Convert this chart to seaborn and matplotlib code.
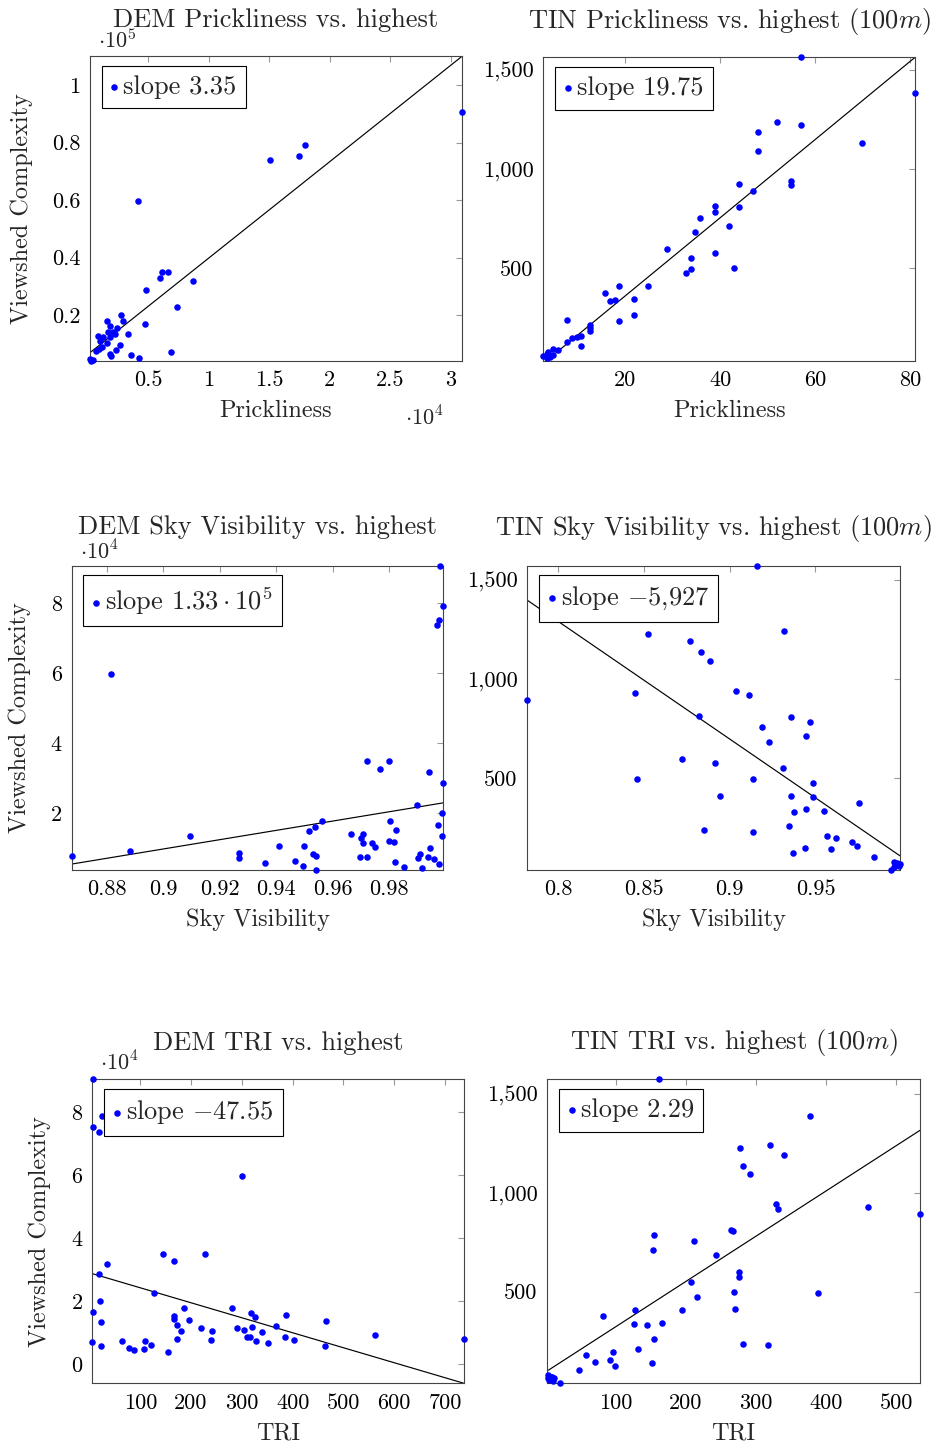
import numpy as np
import matplotlib
matplotlib.use("Agg")
import matplotlib.pyplot as plt
from matplotlib.ticker import FixedLocator, FuncFormatter
import seaborn as sns

# ---------------------------------------------------------------- data
# DEM prickliness (x 1e4) vs. DEM viewshed complexity (x 1e5)
dem_prick_x = np.array([3.095, 1.795, 1.75, 1.506, 0.415, 0.66, 0.613, 0.594, 0.867, 0.481,
                        0.74, 0.274, 0.291, 0.156, 0.186, 0.47, 0.239, 0.164, 0.206, 0.332,
                        0.225, 0.087, 0.128, 0.181, 0.101, 0.161, 0.266, 0.115, 0.095, 0.23,
                        0.068, 0.184, 0.192, 0.354, 0.426, 0.687, 0.018, 0.040, 0.026]) * 1e4
dem_prick_y = np.array([0.906, 0.791, 0.753, 0.738, 0.596, 0.350, 0.351, 0.328, 0.319, 0.288,
                        0.227, 0.201, 0.180, 0.179, 0.163, 0.168, 0.154, 0.142, 0.142, 0.135,
                        0.135, 0.128, 0.122, 0.125, 0.111, 0.104, 0.096, 0.090, 0.082, 0.079,
                        0.074, 0.064, 0.057, 0.062, 0.052, 0.070, 0.046, 0.044, 0.040]) * 1e5

# TIN prickliness vs. TIN viewshed complexity
tin_prick_x = [57.0, 81.0, 51.9, 48.0, 57.0, 69.9, 48.0, 54.9, 54.9, 43.9,
               46.9, 38.9, 38.9, 43.9, 35.8, 41.9, 34.8, 28.7, 33.9, 38.9,
               33.9, 32.7, 42.9, 18.8, 24.8, 15.8, 16.8, 17.8, 21.8, 21.8,
               18.8, 7.8, 12.7, 12.7, 12.7, 10.8, 9.8, 8.8, 7.8, 10.8,
               5.8, 4.8, 4.8, 3.8, 2.8, 3.5, 4.2, 3.5]
tin_prick_y = [1564, 1382, 1237, 1187, 1220, 1131, 1089, 941, 917, 926,
               891, 813, 783, 806, 754, 712, 684, 598, 552, 574,
               493, 475, 498, 411, 411, 374, 332, 337, 343, 263,
               232, 239, 212, 197, 182, 158, 152, 145, 126, 106,
               84, 89, 61, 74, 57, 44, 52, 64]

# DEM sky visibility vs. DEM viewshed complexity (x 1e4)
dem_sky_x = [0.9981, 0.9992, 0.9977, 0.9969, 0.8814, 0.9723, 0.9800, 0.9769, 0.9942, 0.9990,
             0.9900, 0.9987, 0.9802, 0.9564, 0.9538, 0.9825, 0.9517, 0.9973, 0.9095, 0.9664,
             0.9708, 0.9700, 0.9708, 0.9739, 0.9750, 0.9800, 0.9819, 0.9988, 0.9409, 0.9499,
             0.9944, 0.8881, 0.8676, 0.9268, 0.9268, 0.9531, 0.9540, 0.9697, 0.9723, 0.9911,
             0.9902, 0.9937, 0.9959, 0.9361, 0.9467, 0.9495, 0.9541, 0.9821, 0.9852, 0.9915,
             0.9977]
dem_sky_y = np.array([9.08, 7.92, 7.54, 7.38, 5.97, 3.50, 3.50, 3.28, 3.19, 2.88,
                      2.25, 2.00, 1.79, 1.79, 1.62, 1.53, 1.50, 1.67, 1.35, 1.41,
                      1.41, 1.29, 1.14, 1.16, 1.03, 1.22, 1.19, 1.34, 1.06, 1.06,
                      1.02, 0.93, 0.78, 0.86, 0.72, 0.83, 0.77, 0.76, 0.76, 0.84,
                      0.71, 0.74, 0.70, 0.57, 0.65, 0.50, 0.38, 0.60, 0.48, 0.43,
                      0.56]) * 1e4

# TIN sky visibility vs. TIN viewshed complexity
tin_sky_x = [0.9161, 0.9319, 0.8522, 0.8766, 0.8832, 0.8884, 0.7819, 0.8446, 0.9038, 0.9112,
             0.8822, 0.9356, 0.9469, 0.9190, 0.9445, 0.9229, 0.8721, 0.8914, 0.9309, 0.8456,
             0.9138, 0.9483, 0.8943, 0.9358, 0.9488, 0.9755, 0.9375, 0.9445, 0.9550, 0.9348,
             0.8851, 0.9134, 0.9568, 0.9617, 0.9712, 0.9743, 0.9593, 0.9441, 0.9366, 0.9841,
             0.9958, 0.9967, 0.9987, 0.9973, 0.9960, 0.9942, 0.9993]
tin_sky_y = [1572, 1243, 1226, 1192, 1135, 1093, 895, 929, 942, 920,
             813, 809, 784, 757, 713, 685, 598, 576, 550, 495,
             498, 475, 413, 411, 408, 374, 330, 344, 337, 261,
             238, 231, 211, 199, 181, 159, 142, 147, 125, 105,
             80, 63, 58, 71, 55, 38, 68]

# DEM TRI vs. DEM viewshed complexity (x 1e4)
dem_tri_x = [6.9, 6.9, 19.3, 25.2, 301, 144, 227, 166, 34.4, 18,
             127, 20.7, 6.9, 186, 280, 318, 325, 166, 166, 195,
             22.6, 465, 386, 368, 173, 320, 220, 290, 181, 241,
             305, 340, 562, 310, 316, 385, 173, 240, 402, 737,
             328, 352, 109, 122, 107, 65, 78, 88, 155, 464,
             22, 5.6]
dem_tri_y = np.array([9.04, 7.52, 7.37, 7.89, 5.96, 3.51, 3.49, 3.28, 3.18, 2.87,
                      2.25, 2.01, 1.67, 1.79, 1.79, 1.62, 1.49, 1.52, 1.42, 1.41,
                      1.35, 1.36, 1.57, 1.20, 1.23, 1.17, 1.15, 1.14, 1.04, 1.06,
                      1.07, 1.02, 0.94, 0.85, 0.85, 0.85, 0.79, 0.77, 0.77, 0.79,
                      0.73, 0.66, 0.75, 0.61, 0.49, 0.73, 0.52, 0.44, 0.38, 0.57,
                      0.57, 0.70]) * 1e4

# TIN TRI vs. TIN viewshed complexity
tin_tri_x = [161.8, 377.7, 320, 276.9, 340, 281.6, 292, 460.4, 534, 329,
             332, 154.7, 153.2, 212.2, 264.5, 266.9, 243.1, 275.5, 275.5, 208,
             268.3, 388.2, 216.5, 195.1, 270.7, 127.6, 82, 125.7, 144.7, 165.6,
             155.2, 131.9, 281.2, 317.3, 95.7, 57.2, 92.4, 152.3, 70.5, 99.1,
             47.7, 20.6, 4, 8.7, 12, 5.4, 7.3, 11, 4]
tin_tri_y = [1574, 1389, 1244, 1227, 1193, 1136, 1094, 930, 895, 943,
             920, 785, 712, 756, 812, 807, 684, 599, 576, 551,
             497, 494, 473, 409, 411, 408, 374, 335, 330, 341,
             261, 211, 235, 229, 195, 178, 156, 141, 144, 124,
             102, 36, 78, 70, 62, 53, 67, 50, 62]

# regression slopes and intercepts
slopes = [3.35, 19.75, 1.33e5, -5927, -47.55, 2.29]
intercepts = [6300, -36, 23000 - 1.33e5 * 0.9992, 113 + 5927 * 0.9987, 29000, 93]
slope_labels = ["slope 3.35", "slope 19.75", r"slope $1.33\cdot10^{5}$",
                "slope $-$5,927", "slope $-$47.55", "slope 2.29"]

titles = ["DEM Prickliness vs. highest", "TIN Prickliness vs. highest (100$m$)",
          "DEM Sky Visibility vs. highest", "TIN Sky Visibility vs. highest (100$m$)",
          "DEM TRI vs. highest", "TIN TRI vs. highest (100$m$)"]
xlabels = ["Prickliness", "Prickliness", "Sky Visibility", "Sky Visibility", "TRI", "TRI"]
ylabel = "Viewshed Complexity"

# ---------------------------------------------------------------- style
sns.set_theme(style="white")
plt.rcParams["font.family"] = ["serif"]
plt.rcParams["font.serif"] = ["cmr10"]
plt.rcParams["mathtext.fontset"] = "cm"
plt.rcParams["axes.unicode_minus"] = False
plt.rcParams["axes.formatter.use_mathtext"] = True

W, H = 935, 1448
fig = plt.figure(figsize=(W / 100, H / 100), dpi=100)
fig.patch.set_facecolor("white")


def px_axes(left, top, right, bottom):
    return fig.add_axes([left / W, 1 - bottom / H, (right - left) / W, (bottom - top) / H])


def fmt_factory(scale):
    def f(v, pos):
        s = f"{v / scale:,.6f}".rstrip("0").rstrip(".")
        return s
    return FuncFormatter(f)


panels = [
    dict(box=(90, 56, 462, 361), x=dem_prick_x, y=dem_prick_y,
         xlim=(180, 30950), ylim=(4000, 110090),
         xt=[5000, 10000, 15000, 20000, 25000, 30000], xs=1e4,
         yt=[20000, 40000, 60000, 80000, 100000], ys=1e5,
         xoff=r"$\cdot10^{4}$", yoff=r"$\cdot10^{5}$", yoff_y=1.027, tpad=21),
    dict(box=(543.3, 57.3, 915, 360.7), x=tin_prick_x, y=tin_prick_y,
         xlim=(2.77, 81.0), ylim=(32, 1564),
         xt=[20, 40, 60, 80], xs=1, yt=[500, 1000, 1500], ys=1, tpad=21),
    dict(box=(71.7, 565.7, 443.3, 870), x=dem_sky_x, y=dem_sky_y,
         xlim=(0.8676, 0.9992), ylim=(3800, 90800),
         xt=[0.88, 0.9, 0.92, 0.94, 0.96, 0.98], xs=1,
         yt=[20000, 40000, 60000, 80000], ys=1e4,
         yoff=r"$\cdot10^{4}$", yoff_y=1.02, tpad=23),
    dict(box=(527.3, 565.7, 900, 870), x=tin_sky_x, y=tin_sky_y,
         xlim=(0.7819, 0.9993), ylim=(38, 1572),
         xt=[0.8, 0.85, 0.9, 0.95], xs=1, yt=[500, 1000, 1500], ys=1, tpad=22),
    dict(box=(92.3, 1079.3, 464, 1383.3), x=dem_tri_x, y=dem_tri_y,
         xlim=(5.6, 737.4), ylim=(-6060, 90400),
         xt=[100, 200, 300, 400, 500, 600, 700], xs=1,
         yt=[0, 20000, 40000, 60000, 80000], ys=1e4,
         yoff=r"$\cdot10^{4}$", yoff_y=1.028, tpad=21),
    dict(box=(547.3, 1079.3, 920, 1383.3), x=tin_tri_x, y=tin_tri_y,
         xlim=(2.5, 534), ylim=(36, 1574),
         xt=[100, 200, 300, 400, 500], xs=1, yt=[500, 1000, 1500], ys=1, tpad=22),
]

for i, p in enumerate(panels):
    ax = px_axes(*p["box"])
    bw = p["box"][2] - p["box"][0]
    bh = p["box"][3] - p["box"][1]
    x = np.asarray(p["x"], dtype=float)
    y = np.asarray(p["y"], dtype=float)

    sns.scatterplot(x=x, y=y, ax=ax, color="#0000ff", s=22, linewidth=0,
                    label=slope_labels[i], clip_on=False, zorder=3)

    xx = np.array([x.min(), x.max()])
    ax.plot(xx, slopes[i] * xx + intercepts[i], color="black", lw=0.85, zorder=2)

    ax.set_xlim(*p["xlim"])
    ax.set_ylim(*p["ylim"])
    ax.xaxis.set_major_locator(FixedLocator(p["xt"]))
    ax.yaxis.set_major_locator(FixedLocator(p["yt"]))
    ax.xaxis.set_major_formatter(fmt_factory(p["xs"]))
    ax.yaxis.set_major_formatter(fmt_factory(p["ys"]))
    ax.tick_params(direction="in", top=True, right=True, length=4.5, width=0.8,
                   color="#999999", labelsize=16, pad=7, labelcolor="black")
    for sp in ax.spines.values():
        sp.set_color("#444444")
        sp.set_linewidth(0.8)

    ax.set_title(titles[i], fontsize=19, pad=p["tpad"], y=1.0)
    ax.set_xlabel(xlabels[i], fontsize=17.5)
    ax.xaxis.set_label_coords(0.5, -0.164)
    ax.xaxis.label.set_va("center")
    if i % 2 == 0:
        ax.set_ylabel(ylabel, fontsize=17.5)
        ylab_px = {0: 22, 2: 20, 4: 40}[i]
        ax.yaxis.set_label_coords((ylab_px - p["box"][0]) / bw, 0.5)
        ax.yaxis.label.set_va("center")

    if "yoff" in p:
        ax.text(0.022, p["yoff_y"], p["yoff"], transform=ax.transAxes,
                fontsize=16, ha="left", va="baseline")
    if "xoff" in p:
        ax.text(0.847, -0.21, p["xoff"], transform=ax.transAxes,
                fontsize=16, ha="left", va="baseline")

    leg = ax.legend(loc="upper left", bbox_to_anchor=(11.5 / bw, 1 - 9.7 / bh),
                    borderaxespad=0, frameon=True, fancybox=False, framealpha=1,
                    edgecolor="black", fontsize=19, handlelength=0.25,
                    handletextpad=0.22, borderpad=0.36, markerscale=1.0)
    leg.get_frame().set_linewidth(0.8)

fig.savefig("out.png", dpi=100, facecolor="white")
